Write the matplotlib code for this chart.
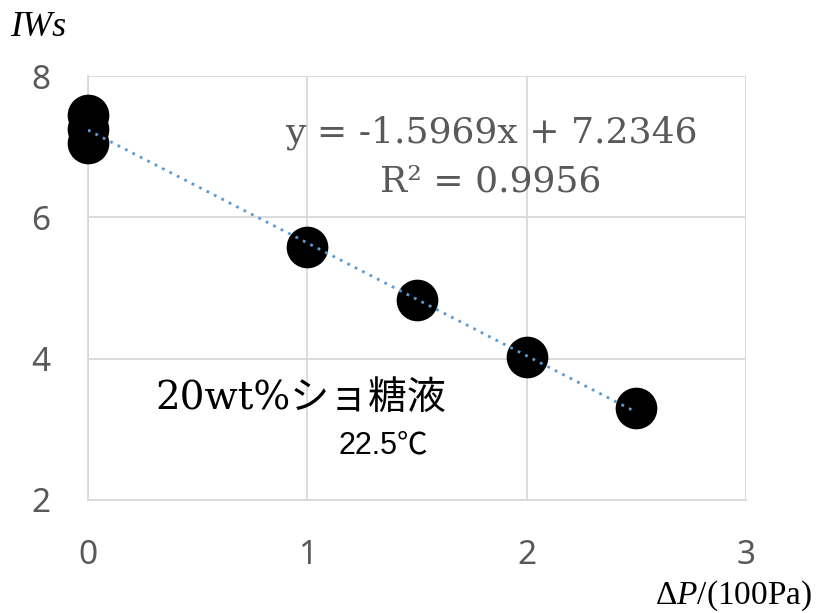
import numpy as np
import matplotlib
matplotlib.use("Agg")
import matplotlib.pyplot as plt

# data
pressure = [0, 0, 0, 1, 1.5, 2, 2.5]
iws = [7.45, 7.25, 7.05, 5.58, 4.83, 4.03, 3.30]
slope, intercept = -1.5969, 7.2346
x_ticks = [0, 1, 2, 3]
y_ticks = [2, 4, 6, 8]

plt.rcParams["mathtext.fontset"] = "custom"
plt.rcParams["mathtext.rm"] = "Liberation Serif"
plt.rcParams["mathtext.it"] = "Liberation Serif:italic"

W, H = 817, 613
fig = plt.figure(figsize=(W / 100, H / 100), dpi=100)
ax = fig.add_axes([88 / W, 1 - 500 / H, (746 - 88) / W, (500 - 76) / H])

ax.set_xlim(0, 3)
ax.set_ylim(2, 8)
ax.set_xticks(x_ticks)
ax.set_yticks(y_ticks)
ax.grid(True, color="#d9d9d9", linewidth=1.3)
ax.set_axisbelow(True)
for side in ["top", "right"]:
    ax.spines[side].set_visible(False)
for side in ["left", "bottom"]:
    ax.spines[side].set_color("#d9d9d9")
    ax.spines[side].set_linewidth(1.3)
ax.tick_params(length=0, labelsize=24, labelcolor="#595959")
ax.tick_params(axis="x", pad=28)
ax.tick_params(axis="y", pad=27)
for lab in ax.get_xticklabels() + ax.get_yticklabels():
    lab.set_family("Noto Sans")

# markers
ax.plot(pressure, iws, "o", color="black", markersize=29, clip_on=False, zorder=3)

# linear trendline
xs = np.array([0, 2.5])
ax.plot(xs, slope * xs + intercept, linestyle=(0, (1, 2)), color="#5b9bd5",
        linewidth=2, zorder=4)

serif = ["DejaVu Serif", "Noto Sans CJK JP"]


def px(x, y):
    return x / W, 1 - y / H


fig.text(*px(10, 28), "IWs", fontsize=26, style="italic", family="Liberation Serif",
         va="center", ha="left")
fig.text(*px(491, 133), "y = -1.5969x + 7.2346", fontsize=26, family="DejaVu Serif",
         color="#595959", ha="center", va="center")
fig.text(*px(491, 181), "R² = 0.9956", fontsize=26, family="DejaVu Serif",
         color="#595959", ha="center", va="center")
fig.text(*px(155, 398), "20wt%ショ糖液", fontsize=28, family=serif,
         ha="left", va="center")
fig.text(*px(428, 445), "22.5℃", fontsize=22, family=["Liberation Sans", "Noto Sans CJK JP"],
         ha="right", va="center")
fig.text(*px(812, 604), r"$\Delta\mathit{P}$/(100Pa)", fontsize=24, family="Liberation Serif",
         ha="right", va="baseline")

fig.savefig("out.png", dpi=100)
